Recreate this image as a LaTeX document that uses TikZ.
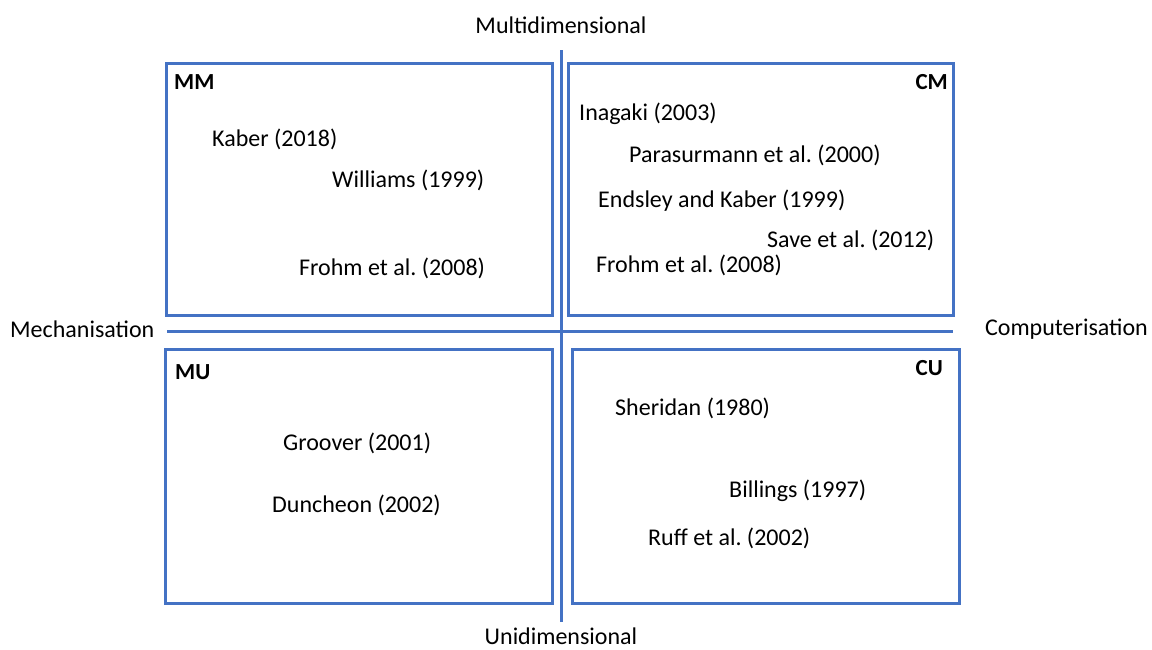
\documentclass[tikz,border=0pt]{standalone}
\usepackage{fontspec}
\setmainfont{Carlito}
\begin{document}
\frenchspacing
\begin{tikzpicture}[x=1pt,y=-1pt,
  quad/.style={draw=qblue,line width=3pt},
  axis/.style={draw=qblue,line width=3pt},
  lbl/.style={inner sep=0pt,font=\fontsize{24}{28}\selectfont},
  tag/.style={inner sep=0pt,font=\fontsize{23}{28}\selectfont\bfseries}]
\definecolor{qblue}{HTML}{4472C4}
\useasboundingbox (0,0) rectangle (1152,649);
% axes
\coordinate (vt) at (561,50);
\coordinate (vb) at (561,622);
\coordinate (hl) at (167,331);
\coordinate (hr) at (953,331);
\draw[axis] (vt) -- (vb);
\draw[axis] (hl) -- (hr);
% boxes
\draw[quad] (166,63) rectangle (552,315);
\draw[quad] (568,63) rectangle (953,315);
\draw[quad] (165,349) rectangle (552,603);
\draw[quad] (572,349) rectangle (959,603);
% axis labels
\node[lbl] (multi) at (561,25) {Multidimensional};
\node[lbl,anchor=north] (uni) at (561,628) {Unidimensional};
\node[lbl,anchor=west] (mech) at (10,329) {Mechanisation};
\node[lbl,anchor=east] (comp) at (1148,329) {Computerisation};
% quadrant tags
\node[tag,anchor=west] (mm) at (174,82) {MM};
\node[tag,anchor=east] (cm) at (948,82) {CM};
\node[tag,anchor=west] (mu) at (175,372) {MU};
\node[tag,anchor=east] (cu) at (943,368) {CU};
% MM
\node[lbl,anchor=west] (kaber) at (212,139) {Kaber (2018)};
\node[lbl,anchor=west] (will) at (332,180) {Williams (1999)};
\node[lbl,anchor=west] (frohma) at (299,268) {Frohm et al. (2008)};
% CM
\node[lbl,anchor=west] (inag) at (579,114) {Inagaki (2003)};
\node[lbl,anchor=west] (para) at (629,155) {Parasurmann et al. (2000)};
\node[lbl,anchor=west] (ends) at (598,201) {Endsley and Kaber (1999)};
\node[lbl,anchor=west] (save) at (767,240) {Save et al. (2012)};
\node[lbl,anchor=west] (frohmb) at (596,265) {Frohm et al. (2008)};
% MU
\node[lbl,anchor=west] (groo) at (283,443) {Groover (2001)};
\node[lbl,anchor=west] (dunc) at (272,505) {Duncheon (2002)};
% CU
\node[lbl,anchor=west] (sher) at (615,408) {Sheridan (1980)};
\node[lbl,anchor=west] (bill) at (729,491) {Billings (1997)};
\node[lbl,anchor=west] (ruff) at (648,538) {Ruff et al. (2002)};
\end{tikzpicture}
\end{document}
